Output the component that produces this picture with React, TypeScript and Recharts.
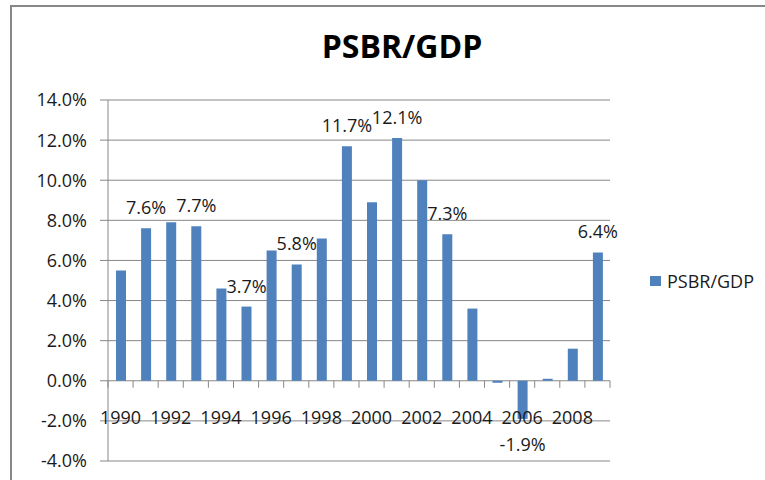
import React from 'react';
import { BarChart, Bar, XAxis, YAxis, CartesianGrid, LabelList } from 'recharts';

const years = [1990, 1991, 1992, 1993, 1994, 1995, 1996, 1997, 1998, 1999, 2000, 2001, 2002, 2003, 2004, 2005, 2006, 2007, 2008, 2009];
const psbrGdp = [5.5, 7.6, 7.9, 7.7, 4.6, 3.7, 6.5, 5.8, 7.1, 11.7, 8.9, 12.1, 10.0, 7.3, 3.6, -0.1, -1.9, 0.1, 1.6, 6.4];
const labelledYears = [1991, 1993, 1995, 1997, 1999, 2001, 2003, 2006, 2009];
const xTickLabels = ['1990', '1992', '1994', '1996', '1998', '2000', '2002', '2004', '2006', '2008'];
const yTicks = [-4, -2, 0, 2, 4, 6, 8, 10, 12, 14];
const seriesName = 'PSBR/GDP';
const title = 'PSBR/GDP';

const data = years.map((y, i) => ({ year: String(y), value: psbrGdp[i] }));

const W = 765;
const H = 480;
const MARGIN = { top: 100, right: 155, bottom: 0, left: 48 };
const Y_AXIS_W = 60;
const X_AXIS_H = 19;
const PLOT_LEFT = MARGIN.left + Y_AXIS_W;
const PLOT_W = W - PLOT_LEFT - MARGIN.right;
const PLOT_H = H - MARGIN.top - MARGIN.bottom - X_AXIS_H;
const Y_MIN = -4;
const Y_MAX = 14;
const ZERO_Y = MARGIN.top + (PLOT_H * Y_MAX) / (Y_MAX - Y_MIN);
const BAND = PLOT_W / years.length;

const FONT = '"Open Sans", "Noto Sans", sans-serif';
const GRID = '#878787';
const BAR = '#4F81BD';
const TEXT = '#1a1a1a';

const XTick = (props: any) => {
  const { x, payload, index } = props;
  const half = BAND / 2;
  const label = String(payload.value);
  const show = xTickLabels.includes(label);
  return (
    <g>
      <line x1={x - half} x2={x - half} y1={ZERO_Y} y2={ZERO_Y + 7} stroke={GRID} strokeWidth={1} />
      {index === years.length - 1 && (
        <line x1={x + half} x2={x + half} y1={ZERO_Y} y2={ZERO_Y + 7} stroke={GRID} strokeWidth={1} />
      )}
      {show && (
        <text x={x} y={ZERO_Y + 43} textAnchor="middle" fontFamily={FONT} fontSize={18} fill={TEXT}>
          {label}
        </text>
      )}
    </g>
  );
};

const BarLabel = (props: any) => {
  const { x, y, width, height, value, index } = props;
  if (!labelledYears.includes(years[index])) return null;
  const top = Math.min(y, y + height);
  const bottom = Math.max(y, y + height);
  const cx = x + width / 2;
  const ty = value < 0 ? bottom + 32 : top - 14;
  return (
    <text x={cx} y={ty} textAnchor="middle" fontFamily={FONT} fontSize={18} fill={TEXT}>
      {`${Number(value).toFixed(1)}%`}
    </text>
  );
};

export default function App() {
  return (
    <div style={{ position: 'absolute', left: 0, top: 0, width: W, height: H, overflow: 'hidden', background: '#fff' }}>
      <div
        style={{
          position: 'absolute',
          left: 10,
          top: 5,
          width: 900,
          height: 700,
          border: `2px solid ${GRID}`,
          boxSizing: 'border-box',
        }}
      />
      <div style={{ position: 'absolute', left: 0, top: 0 }}>
        <BarChart width={W} height={H} data={data} margin={MARGIN} barSize={10}>
          <CartesianGrid horizontal vertical={false} stroke={GRID} strokeWidth={1} />
          <YAxis
            width={Y_AXIS_W}
            domain={[Y_MIN, Y_MAX]}
            ticks={yTicks}
            type="number"
            allowDataOverflow
            interval={0}
            tickFormatter={(v: number) => `${v.toFixed(1)}%`}
            tick={{ fontFamily: FONT, fontSize: 18, fill: TEXT }}
            axisLine={{ stroke: GRID }}
            tickLine={{ stroke: GRID }}
            tickSize={8}
            tickMargin={13}
          />
          <XAxis
            dataKey="year"
            height={X_AXIS_H}
            interval={0}
            axisLine={false}
            tickLine={false}
            tick={<XTick />}
          />
          <Bar dataKey="value" name={seriesName} fill={BAR} isAnimationActive={false}>
            <LabelList dataKey="value" content={<BarLabel />} />
          </Bar>
        </BarChart>
      </div>
      <svg width={W} height={H} style={{ position: 'absolute', left: 0, top: 0, pointerEvents: 'none' }}>
        <text x={402} y={58} textAnchor="middle" fontFamily={FONT} fontWeight={700} fontSize={32} fill="#000">
          {title}
        </text>
        <rect x={650} y={276} width={11} height={10} fill={BAR} />
        <text x={667} y={288} fontFamily={FONT} fontSize={18} fill={TEXT}>
          {seriesName}
        </text>
      </svg>
    </div>
  );
}
